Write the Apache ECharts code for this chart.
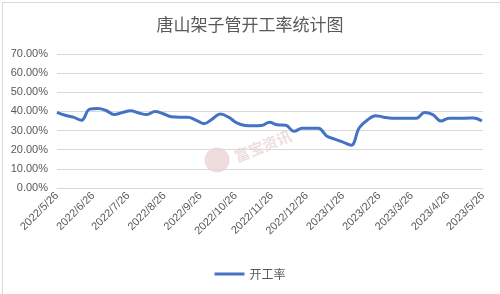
<!DOCTYPE html>
<html>
<head>
<meta charset="utf-8">
<script src="https://cdn.jsdelivr.net/npm/echarts@6/dist/echarts.min.js"></script>
<style>html,body{margin:0;padding:0;background:#fff}#c{width:500px;height:294px}</style>
</head>
<body>
<div id="c"></div>
<script>
const titleText = '唐山架子管开工率统计图';
const seriesName = '开工率';
const watermark = '富宝资讯';
const startDate = [2022, 5, 26];
// weekly operating rate (%), starting 2022/5/26
const rates = [
  39.5, 38.0, 37.0, 35.4, 41.2, 41.5, 40.5, 38.4, 39.4, 40.3,
  39.2, 38.4, 39.9, 38.8, 37.2, 37.0, 37.0, 35.5, 33.6, 36.0,
  38.6, 37.0, 34.0, 32.7, 32.5, 32.6, 34.3, 33.0, 32.8, 29.6,
  31.2, 31.2, 31.2, 27.2, 25.5, 24.0, 22.3, 31.5, 35.5, 37.8,
  37.0, 36.5, 36.5, 36.5, 36.5, 39.5, 38.3, 35.0, 36.5, 36.5,
  36.5, 36.6, 35.0
];
const tickMonths = [
  [2022,5,26],[2022,6,26],[2022,7,26],[2022,8,26],[2022,9,26],[2022,10,26],[2022,11,26],
  [2022,12,26],[2023,1,26],[2023,2,26],[2023,3,26],[2023,4,26],[2023,5,26]
];
const yTicks = [0, 10, 20, 30, 40, 50, 60, 70];

const ts = a => Date.UTC(a[0], a[1]-1, a[2]) / 86400000; // day number
const t0 = ts(startDate);
const data = rates.map((v, i) => [t0 + i * 7, v]);
const tickVals = tickMonths.map(ts);
const fmtDay = v => { const d = new Date(Math.round(v) * 86400000); return d.getUTCFullYear() + '/' + (d.getUTCMonth()+1) + '/' + d.getUTCDate(); };

const chart = echarts.init(document.getElementById('c'), null, {renderer: 'canvas'});
chart.setOption({
  backgroundColor: '#fff',
  animation: false,
  title: {
    text: titleText, left: 'center', top: 11,
    textStyle: {fontFamily: 'Noto Sans CJK SC', fontSize: 17, fontWeight: 'normal', color: '#595959'}
  },
  graphic: [
    {type: 'rect', left: 0, top: 0, shape: {width: 499, height: 293}, style: {fill: 'none', stroke: '#d9d9d9', lineWidth: 1}, silent: true},
    {type: 'circle', shape: {cx: 217, cy: 160, r: 12.5}, style: {fill: 'rgba(214,170,170,0.4)'}, silent: true, z: -1},
    {type: 'group', x: 263, y: 146, rotation: 0.38, silent: true, z: -1, children: [
      {type: 'text', x: 0, y: 0, style: {text: watermark, font: 'bold 15px "Noto Sans CJK SC"', fill: 'rgba(214,170,170,0.4)', align: 'center', verticalAlign: 'middle'}}
    ]}
  ],
  legend: {
    bottom: 9, left: 'center', itemWidth: 30, itemHeight: 3, itemGap: 5,
    data: [{name: seriesName, icon: 'rect'}],
    textStyle: {fontFamily: 'Noto Sans CJK SC', fontSize: 12, color: '#595959'}
  },
  grid: {left: 57, right: 17, top: 54, bottom: 106, containLabel: false},
  xAxis: {
    type: 'value', min: tickVals[0], max: tickVals[tickVals.length-1],
    axisLine: {show: true, lineStyle: {color: '#d9d9d9'}},
    axisTick: {show: false},
    splitLine: {show: false},
    axisLabel: {
      customValues: tickVals, rotate: 45, margin: 6, hideOverlap: false,
      fontFamily: 'Liberation Sans', fontSize: 11, color: '#595959',
      formatter: fmtDay
    }
  },
  yAxis: {
    type: 'value', min: yTicks[0], max: yTicks[yTicks.length-1], interval: 10,
    axisLine: {show: false}, axisTick: {show: false},
    splitLine: {lineStyle: {color: '#d9d9d9', width: 1}},
    axisLabel: {fontFamily: 'Liberation Sans', fontSize: 11, color: '#595959', margin: 9, formatter: v => v.toFixed(2) + '%'}
  },
  series: [{
    name: seriesName, type: 'line', data: data, smooth: 0.4, symbol: 'none',
    lineStyle: {color: '#4472C4', width: 3}, itemStyle: {color: '#4472C4'}
  }]
});
</script>
</body>
</html>
